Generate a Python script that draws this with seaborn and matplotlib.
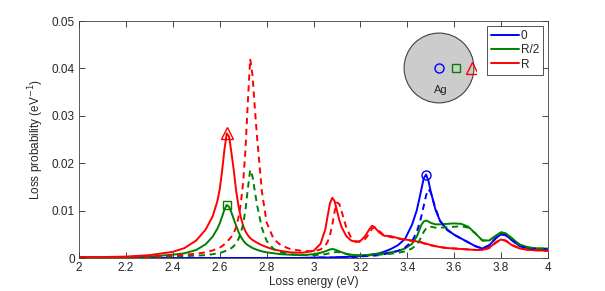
import numpy as np
import pandas as pd
import matplotlib
matplotlib.use("Agg")
import matplotlib.pyplot as plt
import seaborn as sns
from matplotlib.patches import Circle

# ----------------------------------------------------------
# DATA
# ----------------------------------------------------------

energy = [
    2.00, 2.10, 2.20, 2.30, 2.40, 2.45, 2.50, 2.54, 2.57, 2.59,
    2.60, 2.61, 2.62, 2.63, 2.64, 2.65, 2.66, 2.67, 2.68, 2.69,
    2.70, 2.71, 2.72, 2.73, 2.74, 2.75, 2.76, 2.78, 2.80, 2.83,
    2.86, 2.90, 2.95, 3.00, 3.03, 3.05, 3.06, 3.07, 3.08, 3.09,
    3.10, 3.11, 3.12, 3.14, 3.16, 3.18, 3.20, 3.22, 3.24, 3.25,
    3.26, 3.28, 3.30, 3.33, 3.36, 3.39, 3.42, 3.44, 3.45, 3.46,
    3.47, 3.48, 3.49, 3.50, 3.52, 3.54, 3.57, 3.60, 3.63, 3.66,
    3.69, 3.72, 3.75, 3.78, 3.80, 3.82, 3.85, 3.88, 3.92, 3.96,
    4.00,
]

center_solid = [
    0, 0, 0, 0, 0, 0, 0, 0, 0, 0,
    0, 0, 0, 0, 0, 0, 0, 0, 0, 0,
    0, 0, 0, 0, 0, 0, 0, 0, 0, 0,
    0, 0, 0, 0.0001, 0.0001, 0.0001, 0.0001, 0.0001, 0.0001, 0.0001,
    0.0002, 0.0002, 0.0002, 0.0002, 0.0003, 0.0003, 0.0004, 0.0005, 0.0006, 0.0007,
    0.0008, 0.0010, 0.0013, 0.0019, 0.0027, 0.0040, 0.0070, 0.0100, 0.0122, 0.0145,
    0.0168, 0.0176, 0.0163, 0.0140, 0.0102, 0.0078, 0.0060, 0.0049, 0.0041, 0.0033,
    0.0025, 0.0020, 0.0027, 0.0043, 0.0050, 0.0048, 0.0036, 0.0025, 0.0020, 0.0019,
    0.0019,
]

center_dashed = [
    0, 0, 0, 0, 0, 0, 0, 0, 0, 0,
    0, 0, 0, 0, 0, 0, 0, 0, 0, 0,
    0, 0, 0, 0, 0, 0, 0, 0, 0, 0,
    0, 0, 0, 0, 0.0001, 0.0001, 0.0001, 0.0001, 0.0001, 0.0001,
    0.0001, 0.0001, 0.0001, 0.0002, 0.0002, 0.0002, 0.0003, 0.0004, 0.0004, 0.0005,
    0.0005, 0.0006, 0.0008, 0.0011, 0.0015, 0.0022, 0.0035, 0.0055, 0.0070, 0.0088,
    0.0110, 0.0132, 0.0145, 0.0138, 0.0105, 0.0078, 0.0059, 0.0049, 0.0041, 0.0033,
    0.0025, 0.0020, 0.0027, 0.0043, 0.0050, 0.0048, 0.0036, 0.0025, 0.0020, 0.0019,
    0.0019,
]

half_solid = [
    0.0001, 0.0001, 0.0002, 0.0003, 0.0007, 0.0010, 0.0017, 0.0029, 0.0045, 0.0062,
    0.0073, 0.0087, 0.0102, 0.0112, 0.0108, 0.0096, 0.0082, 0.0068, 0.0055, 0.0045,
    0.0037, 0.0031, 0.0027, 0.0024, 0.0021, 0.0019, 0.0017, 0.0014, 0.0012, 0.0010,
    0.0008, 0.0007, 0.0006, 0.0008, 0.0011, 0.0014, 0.0016, 0.0018, 0.0019, 0.0018,
    0.0016, 0.0014, 0.0012, 0.0009, 0.0007, 0.0006, 0.0006, 0.0006, 0.0007, 0.0008,
    0.0008, 0.0009, 0.0010, 0.0012, 0.0015, 0.0020, 0.0030, 0.0045, 0.0057, 0.0070,
    0.0077, 0.0079, 0.0077, 0.0074, 0.0071, 0.0071, 0.0072, 0.0073, 0.0072, 0.0066,
    0.0052, 0.0037, 0.0037, 0.0048, 0.0054, 0.0052, 0.0040, 0.0028, 0.0022, 0.0020,
    0.0020,
]

half_dashed = [
    0.0001, 0.0001, 0.0001, 0.0002, 0.0003, 0.0004, 0.0005, 0.0006, 0.0008, 0.0010,
    0.0011, 0.0012, 0.0014, 0.0016, 0.0018, 0.0021, 0.0025, 0.0031, 0.0040, 0.0053,
    0.0072, 0.0102, 0.0146, 0.0186, 0.0172, 0.0140, 0.0110, 0.0063, 0.0036, 0.0019,
    0.0012, 0.0008, 0.0006, 0.0006, 0.0007, 0.0008, 0.0009, 0.0010, 0.0011, 0.0012,
    0.0013, 0.0012, 0.0011, 0.0008, 0.0006, 0.0005, 0.0005, 0.0005, 0.0006, 0.0006,
    0.0006, 0.0007, 0.0008, 0.0009, 0.0011, 0.0014, 0.0020, 0.0028, 0.0035, 0.0045,
    0.0055, 0.0062, 0.0066, 0.0066, 0.0064, 0.0064, 0.0065, 0.0066, 0.0067, 0.0064,
    0.0052, 0.0037, 0.0037, 0.0048, 0.0054, 0.0052, 0.0040, 0.0028, 0.0022, 0.0020,
    0.0020,
]

edge_solid = [
    0.0002, 0.0002, 0.0003, 0.0006, 0.0013, 0.0021, 0.0037, 0.0060, 0.0088, 0.0120,
    0.0145, 0.0183, 0.0228, 0.0263, 0.0256, 0.0222, 0.0185, 0.0142, 0.0110, 0.0086,
    0.0068, 0.0056, 0.0048, 0.0042, 0.0038, 0.0035, 0.0032, 0.0027, 0.0023, 0.0018,
    0.0015, 0.0012, 0.0011, 0.0015, 0.0030, 0.0060, 0.0088, 0.0115, 0.0127, 0.0120,
    0.0100, 0.0080, 0.0065, 0.0046, 0.0037, 0.0034, 0.0036, 0.0046, 0.0062, 0.0068,
    0.0065, 0.0054, 0.0047, 0.0046, 0.0042, 0.0039, 0.0037, 0.0035, 0.0034, 0.0033,
    0.0031, 0.0030, 0.0029, 0.0027, 0.0025, 0.0023, 0.0021, 0.0020, 0.0019, 0.0018,
    0.0017, 0.0017, 0.0022, 0.0034, 0.0039, 0.0036, 0.0026, 0.0020, 0.0017, 0.0016,
    0.0015,
]

edge_dashed = [
    0.0001, 0.0001, 0.0002, 0.0003, 0.0005, 0.0007, 0.0009, 0.0012, 0.0016, 0.0020,
    0.0022, 0.0025, 0.0029, 0.0034, 0.0039, 0.0045, 0.0053, 0.0065, 0.0085, 0.0115,
    0.0160, 0.0230, 0.0330, 0.0420, 0.0385, 0.0315, 0.0250, 0.0140, 0.0075, 0.0040,
    0.0027, 0.0019, 0.0015, 0.0014, 0.0018, 0.0026, 0.0034, 0.0048, 0.0070, 0.0098,
    0.0117, 0.0114, 0.0098, 0.0064, 0.0043, 0.0035, 0.0034, 0.0040, 0.0053, 0.0062,
    0.0065, 0.0057, 0.0048, 0.0044, 0.0041, 0.0038, 0.0036, 0.0035, 0.0034, 0.0033,
    0.0031, 0.0030, 0.0028, 0.0027, 0.0025, 0.0023, 0.0021, 0.0020, 0.0019, 0.0018,
    0.0017, 0.0017, 0.0021, 0.0033, 0.0039, 0.0037, 0.0027, 0.0020, 0.0017, 0.0016,
    0.0015,
]

positions = ["0", "R/2", "R"]
sketch_x = [0.0, 0.48, 0.95]   # probe position inside the sphere (units of R)

x_ticks = [2.0, 2.2, 2.4, 2.6, 2.8, 3.0, 3.2, 3.4, 3.6, 3.8, 4.0]
x_tick_labels = ["2", "2.2", "2.4", "2.6", "2.8", "3", "3.2", "3.4", "3.6", "3.8", "4"]
y_ticks = [0, 0.01, 0.02, 0.03, 0.04, 0.05]
y_tick_labels = ["0", "0.01", "0.02", "0.03", "0.04", "0.05"]

# ----------------------------------------------------------
# STYLE
# ----------------------------------------------------------

sns.set_style("ticks")
plt.rcParams["font.family"] = ["Liberation Sans", "DejaVu Sans"]
plt.rcParams["font.size"] = 8.5

colors = ["#0000ff", "#008000", "#ff0000"]
markers = ["o", "s", "^"]
marker_sizes = [6.5, 5.5, 8]

df = pd.DataFrame({
    "energy": energy,
    "0 solid": center_solid,
    "0 dashed": center_dashed,
    "R/2 solid": half_solid,
    "R/2 dashed": half_dashed,
    "R solid": edge_solid,
    "R dashed": edge_dashed,
})

fig = plt.figure(figsize=(6.05, 2.91), dpi=100)
ax = fig.add_axes([0.1306, 0.1134, 0.7752, 0.8144])

# solid curves (legend entries)
for pos, c in zip(positions, colors):
    sns.lineplot(data=df, x="energy", y=pos + " solid", ax=ax,
                 color=c, linewidth=1.4, label=pos, estimator=None)

# dashed curves
for pos, c in zip(positions, colors):
    sns.lineplot(data=df, x="energy", y=pos + " dashed", ax=ax,
                 color=c, linewidth=1.4, linestyle=(0, (3.2, 2.4)),
                 estimator=None)

# peak markers on the solid curves
for pos, c, m, ms in zip(positions, colors, markers, marker_sizes):
    i = df[pos + " solid"].idxmax()
    ax.plot(df.loc[i, "energy"], df.loc[i, pos + " solid"], m,
            mfc="none", mec=c, ms=ms, mew=1.0)

ax.set_xlim(2, 4)
ax.set_ylim(0, 0.05)
ax.set_xticks(x_ticks)
ax.set_xticklabels(x_tick_labels)
ax.set_yticks(y_ticks)
ax.set_yticklabels(y_tick_labels)
ax.set_xlabel("Loss energy (eV)", labelpad=1)
ax.set_ylabel("Loss probability (eV$^{-1}$)", labelpad=4)

ax.tick_params(direction="in", length=4, width=0.6, top=True, right=True,
               colors="#262626", labelsize=8.5, pad=3)
for s in ax.spines.values():
    s.set_visible(True)
    s.set_linewidth(0.6)
    s.set_color("#404040")

leg = ax.legend(loc="upper right", fontsize=8.5, frameon=True, fancybox=False,
                handlelength=2.3, handletextpad=0.2, labelspacing=0.2,
                borderpad=0.35, borderaxespad=0.4)
leg.get_frame().set_edgecolor("#262626")
leg.get_frame().set_linewidth(0.7)

# ----------------------------------------------------------
# INSET: sphere with probe positions
# ----------------------------------------------------------

ins = fig.add_axes([0.6645, 0.6392, 0.1223, 0.2543])
ins.add_patch(Circle((0, 0), 1.0, facecolor="#cccccc", edgecolor="#404040",
                     linewidth=0.8))
for xp, c, m, ms in zip(sketch_x, colors, markers, marker_sizes):
    ins.plot(xp, 0, m, mfc="none", mec=c, ms=ms, mew=1.0)
ins.text(0.05, -0.62, "Ag", ha="center", va="center", fontsize=8)
ins.set_xlim(-1.06, 1.06)
ins.set_ylim(-1.06, 1.06)
ins.set_aspect("equal")
ins.axis("off")

plt.savefig("out.png", dpi=100)
